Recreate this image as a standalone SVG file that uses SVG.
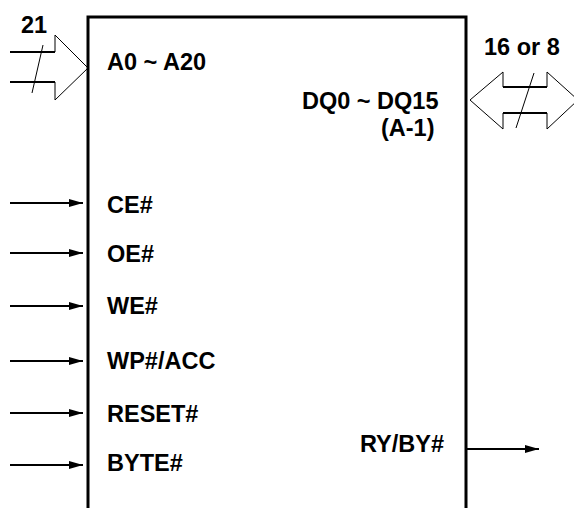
<svg xmlns="http://www.w3.org/2000/svg" width="574" height="508" viewBox="0 0 574 508">
<defs>
<style>
.lbl{font-family:"Liberation Sans",Arial,sans-serif;font-weight:bold;font-size:23.5px;fill:#000}
.box{fill:none;stroke:#000;stroke-width:3}
.thin{fill:none;stroke:#000;stroke-width:1}
.bus{fill:none;stroke:#000;stroke-width:2}
.sig{fill:none;stroke:#000;stroke-width:2}
</style>
<marker id="ah" viewBox="0 0 14 8" refX="14" refY="4" markerWidth="14" markerHeight="8" markerUnits="userSpaceOnUse" orient="auto">
<path d="M0,0 L14,4 L0,8 Z" fill="#000"/>
</marker>
</defs>
<rect width="574" height="508" fill="#fff"/>
<g id="chip">
<path class="box" d="M88,510 V17 H466 V510"/>
<text class="lbl" x="107" y="70">A0 ~ A20</text>
<text class="lbl" x="302" y="109">DQ0 ~ DQ15</text>
<text class="lbl" x="381" y="136">(A-1)</text>
<text class="lbl" x="107" y="213">CE#</text>
<text class="lbl" x="107" y="262">OE#</text>
<text class="lbl" x="107" y="314">WE#</text>
<text class="lbl" x="107" y="369">WP#/ACC</text>
<text class="lbl" x="107" y="422">RESET#</text>
<text class="lbl" x="107" y="471">BYTE#</text>
<text class="lbl" x="360" y="452">RY/BY#</text>
</g>
<g id="connectors">
<g id="addr-bus">
<path class="thin" d="M55,52 V35 L88,68 L55,100 V82"/>
<path class="bus" d="M10,52 H55 M10,82 H55"/>
<line class="thin" x1="43" y1="45" x2="32" y2="93"/>
<text class="lbl" x="21" y="33">21</text>
</g>
<g id="data-bus">
<path class="thin" d="M503,87 V72 L470,100 L503,129 V113"/>
<path class="thin" d="M547,87 V72 L578,100 L547,129 V113"/>
<path class="bus" d="M503,87 H547 M503,113 H547"/>
<line class="thin" x1="534" y1="73" x2="516" y2="128"/>
<text class="lbl" x="484" y="55">16 or 8</text>
</g>
<line class="sig" x1="10" y1="203" x2="83" y2="203" marker-end="url(#ah)"/>
<line class="sig" x1="10" y1="253" x2="83" y2="253" marker-end="url(#ah)"/>
<line class="sig" x1="10" y1="306" x2="83" y2="306" marker-end="url(#ah)"/>
<line class="sig" x1="10" y1="361" x2="83" y2="361" marker-end="url(#ah)"/>
<line class="sig" x1="10" y1="413" x2="83" y2="413" marker-end="url(#ah)"/>
<line class="sig" x1="10" y1="465" x2="83" y2="465" marker-end="url(#ah)"/>
<line class="sig" x1="466" y1="449" x2="539" y2="449" marker-end="url(#ah)"/>
</g>
</svg>
